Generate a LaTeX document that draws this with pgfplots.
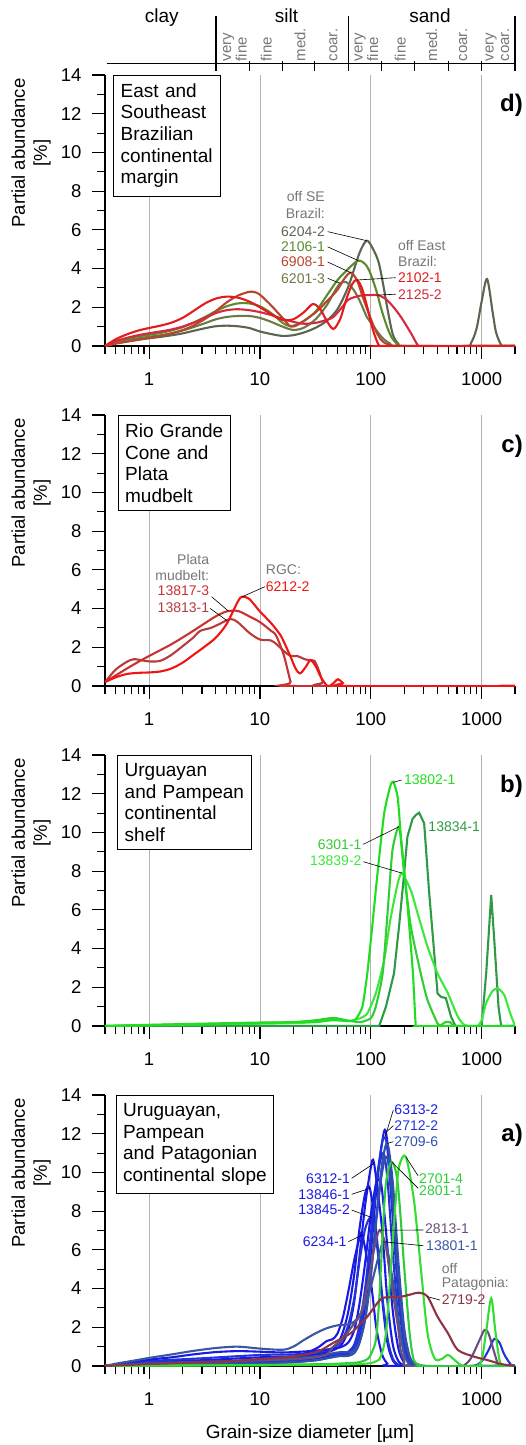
\documentclass[border=0pt]{standalone}
\usepackage{pgfplots}
\pgfplotsset{compat=1.18}
\usepackage{fontspec}
\setmainfont{Liberation Sans}

% sample colours
\definecolor{c6204}{HTML}{5A6650}
\definecolor{c2106}{HTML}{5B8A30}
\definecolor{c6908}{HTML}{B8452E}
\definecolor{c6201}{HTML}{6B7A48}
\definecolor{c2102}{HTML}{E51B1B}
\definecolor{c2125}{HTML}{D42A3C}
\definecolor{c6212}{HTML}{F01515}
\definecolor{c13817}{HTML}{C93232}
\definecolor{c13813}{HTML}{B83A3A}
\definecolor{c13802}{HTML}{20DD20}
\definecolor{c13834}{HTML}{2E9A45}
\definecolor{c6301}{HTML}{33CC33}
\definecolor{c13839}{HTML}{3DE83D}
\definecolor{cblue}{HTML}{1A1AE6}
\definecolor{cblueb}{HTML}{2233D8}
\definecolor{csteel}{HTML}{3050B0}
\definecolor{cslate}{HTML}{3A58A0}
\definecolor{cpurple}{HTML}{6B4E7C}
\definecolor{cmaroon}{HTML}{8C3444}
\definecolor{cgreen}{HTML}{2ECC3A}
\definecolor{cgreenb}{HTML}{33DD33}
\definecolor{lblgray}{HTML}{777777}
\definecolor{gridgray}{HTML}{B4B4B4}

\tikzset{
  ann/.style={inner sep=0pt, font=\fontsize{14}{15}\selectfont},
  leader/.style={line width=0.6pt, black},
  boxlbl/.style={draw=black, line width=0.8pt, fill=white, anchor=north west, align=left,
    inner xsep=7pt, inner ysep=8pt, font=\fontsize{19}{21.7}\selectfont},
  panellbl/.style={anchor=east, inner sep=0pt, font=\fontsize{24}{24}\selectfont\bfseries},
  subclass/.style={rotate=90, anchor=west, align=left, inner sep=1.5pt, text=lblgray,
    font=\fontsize{15}{15.5}\selectfont},
}

\pgfplotsset{
  every axis/.append style={
    scale only axis, width=410pt, height=271pt,
    xmin=0.4, xmax=2000, ymin=0, ymax=14,
    axis x line*=bottom, axis y line*=left,
    axis line style={line width=1.3pt, -},
    tick align=outside,
    major tick length=13pt, minor tick length=8pt,
    tick style={black, line width=1.1pt},
    xtick={1,10,100,1000}, xticklabels={1,10,100,1000},
    minor xtick={0.4,0.5,0.6,0.7,0.8,0.9,2,3,4,5,6,7,8,9,20,30,40,50,60,70,80,90,200,300,400,500,600,700,800,900,2000},
    ytick={0,2,...,14}, minor ytick={1,3,...,13},
    xmajorgrids, major x grid style={gridgray, line width=0.9pt},
    ticklabel style={font=\fontsize{18.5}{20}\selectfont},
    /pgf/number format/assume math mode=true,
    xticklabel style={yshift=-10pt},
    yticklabel style={xshift=-7pt},
    clip mode=individual,
    ylabel={Partial abundance\\{}[\%]},
    ylabel style={at={(axis description cs:-0.18,0.712)}, anchor=center, align=center,
      font=\fontsize{18.5}{22}\selectfont},
  },
  every axis plot/.append style={line width=2.1pt, no marks, smooth, tension=0.5},
}

\begin{document}
\begin{tikzpicture}
\path[use as bounding box] (0,0) rectangle (525pt,-1445pt);

% ---------------- d) East and Southeast Brazilian continental margin
\begin{axis}[xmode=log, at={(105pt,-346pt)}, anchor=south west]
\addplot[c6204] coordinates {(0.4,0) (0.5,0.15) (0.63,0.25) (0.8,0.33) (1,0.4) (1.26,0.47) (1.58,0.55) (2,0.65) (2.5,0.78) (3.2,0.92) (4,1.02) (5,1.05) (6.3,1.02) (8,0.93) (10,0.75) (12.6,0.62) (16,0.52) (20,0.56) (25,0.7) (32,0.95) (40,1.3) (50,1.9) (63,3.1) (79,4.8) (92,5.44) (105,5.0) (118,4.3) (131,3.0) (142,1.86) (158,0.6) (178,0.1) (200,0) (700,0) (800,0.15) (900,0.9) (1000,2.3) (1120,3.46) (1260,1.7) (1350,0.7) (1500,0.05) (1600,0) (2000,0)};
\addplot[c6201] coordinates {(0.4,0) (0.5,0.18) (0.63,0.3) (0.8,0.4) (1,0.48) (1.26,0.55) (1.58,0.65) (2,0.8) (2.5,0.97) (3.2,1.18) (4,1.38) (5,1.5) (6.3,1.55) (8,1.55) (10,1.45) (12.6,1.25) (16,1.0) (20,0.83) (25,0.95) (32,1.4) (40,2.1) (47,2.8) (53,3.24) (60,3.3) (70,2.9) (80,2.3) (92,1.5) (100,1.2) (126,0.45) (150,0.12) (178,0) (2000,0)};
\addplot[c2106] coordinates {(0.4,0) (0.5,0.22) (0.63,0.38) (0.8,0.5) (1,0.58) (1.26,0.67) (1.58,0.8) (2,0.97) (2.5,1.2) (3.2,1.5) (4,1.8) (5,2.05) (6.3,2.2) (8,2.2) (10,2.05) (12.6,1.7) (16,1.2) (18,1.05) (20,1.05) (25,1.3) (32,1.8) (40,2.6) (50,3.4) (63,4.0) (77,4.41) (90,4.2) (100,3.7) (113,2.8) (126,1.8) (142,0.9) (158,0.35) (178,0.05) (200,0) (2000,0)};
\addplot[c6908] coordinates {(0.4,0) (0.5,0.12) (0.63,0.22) (0.8,0.32) (1,0.42) (1.26,0.52) (1.58,0.65) (2,0.82) (2.5,1.05) (3.2,1.4) (4,1.8) (5,2.25) (6.3,2.6) (8,2.8) (9,2.78) (10,2.65) (12.6,2.1) (16,1.45) (19,1.0) (22,1.1) (25,1.3) (32,1.75) (40,2.3) (50,2.9) (58,3.5) (66,3.79) (75,3.4) (85,2.5) (100,1.4) (115,0.6) (130,0.2) (158,0.02) (200,0) (2000,0)};
\addplot[c2125] coordinates {(0.4,0) (0.5,0.25) (0.63,0.42) (0.8,0.56) (1,0.66) (1.26,0.75) (1.58,0.85) (2,1.0) (2.5,1.2) (3.2,1.45) (4,1.7) (5,1.85) (6.3,1.9) (8,1.85) (10,1.75) (12.6,1.6) (16,1.4) (20,1.25) (25,1.15) (32,1.2) (40,1.35) (46,1.5) (55,2.0) (63,2.4) (80,2.6) (100,2.63) (115,2.63) (135,2.45) (158,2.05) (187,1.5) (230,0.67) (265,0.05) (290,0) (2000,0)};
\addplot[c2102] coordinates {(0.4,0) (0.5,0.35) (0.63,0.6) (0.8,0.8) (1,0.93) (1.26,1.05) (1.58,1.2) (2,1.45) (2.5,1.8) (3.2,2.2) (4,2.45) (5,2.55) (6.3,2.5) (8,2.3) (10,2.0) (12.6,1.65) (16,1.35) (20,1.38) (25,1.75) (30,2.17) (35,1.9) (40,1.3) (46,0.88) (53,1.4) (60,2.4) (68,3.2) (75,3.41) (83,3.0) (93,2.0) (105,0.8) (118,0.05) (130,0) (2000,0)};

\node[boxlbl, text width=93pt] at (axis description cs:0.0202,1.0) {East~and\\Southeast\\Brazilian\\continental\\margin};
\node[panellbl] at (axis description cs:1.0195,0.889) {d)};

\node[ann, anchor=east, text=lblgray] at (axis description cs:0.5366,0.551) {off SE};
\node[ann, anchor=east, text=lblgray] at (axis description cs:0.5366,0.490) {Brazil:};
\node[ann, anchor=east, text=c6204] at (axis description cs:0.5366,0.422) {6204-2};
\node[ann, anchor=east, text=c2106] at (axis description cs:0.5366,0.366) {2106-1};
\node[ann, anchor=east, text=c6908] at (axis description cs:0.5366,0.310) {6908-1};
\node[ann, anchor=east, text=c6201] at (axis description cs:0.5366,0.250) {6201-3};
\draw[leader] (axis description cs:0.543,0.422) -- (axis cs:92,5.44);
\draw[leader] (axis description cs:0.543,0.366) -- (axis cs:77.3,4.41);
\draw[leader] (axis description cs:0.543,0.310) -- (axis cs:65.9,3.79);
\draw[leader] (axis description cs:0.543,0.250) -- (axis cs:52.8,3.24);
\node[ann, anchor=west, text=lblgray] at (axis description cs:0.7146,0.3716) {off East};
\node[ann, anchor=west, text=lblgray] at (axis description cs:0.7146,0.311) {Brazil:};
\node[ann, anchor=west, text=c2102] at (axis description cs:0.7146,0.252) {2102-1};
\node[ann, anchor=west, text=c2125] at (axis description cs:0.7146,0.191) {2125-2};
\draw[leader] (axis description cs:0.709,0.252) -- (axis cs:74.8,3.41);
\draw[leader] (axis description cs:0.709,0.191) -- (axis cs:113,2.63);

% grain-size class scale (Wentworth)
\draw[line width=1.4pt] (axis cs:0.4145,14.605) -- (axis cs:2000,14.605);
\draw[line width=1.6pt] (axis cs:4,17.05) -- (axis cs:4,14.22);
\draw[line width=1.6pt] (axis cs:63,17.05) -- (axis cs:63,14.22);
\draw[line width=1.6pt] (axis cs:2000,17.05) -- (axis cs:2000,14.22);
\draw[line width=1.1pt] (axis cs:8,14.72) -- (axis cs:8,14.22);
\draw[line width=1.1pt] (axis cs:16,14.72) -- (axis cs:16,14.22);
\draw[line width=1.1pt] (axis cs:31,14.72) -- (axis cs:31,14.22);
\draw[line width=1.1pt] (axis cs:125,14.72) -- (axis cs:125,14.22);
\draw[line width=1.1pt] (axis cs:250,14.72) -- (axis cs:250,14.22);
\draw[line width=1.1pt] (axis cs:500,14.72) -- (axis cs:500,14.22);
\draw[line width=1.1pt] (axis cs:1000,14.72) -- (axis cs:1000,14.22);
\node[anchor=base, inner sep=0pt, font=\fontsize{19}{19}\selectfont] at (axis cs:1.30,16.69) {clay};
\node[anchor=base, inner sep=0pt, font=\fontsize{19}{19}\selectfont] at (axis cs:17.36,16.69) {silt};
\node[anchor=base, inner sep=0pt, font=\fontsize{19}{19}\selectfont] at (axis cs:342,16.69) {sand};
\node[subclass] at (axis cs:5.95,14.62) {very\\fine};
\node[subclass] at (axis cs:11.4,14.62) {fine};
\node[subclass] at (axis cs:23,14.62) {med.};
\node[subclass] at (axis cs:45.9,14.62) {coar.};
\node[subclass] at (axis cs:91.5,14.62) {very\\fine};
\node[subclass] at (axis cs:184,14.62) {fine};
\node[subclass] at (axis cs:354,14.62) {med.};
\node[subclass] at (axis cs:683,14.62) {coar.};
\node[subclass] at (axis cs:1391,14.62) {very\\coar.};
\end{axis}

% ---------------- c) Rio Grande Cone and Plata mudbelt
\begin{axis}[xmode=log, at={(105pt,-686pt)}, anchor=south west]
\addplot[c13813] coordinates {(0.4,0.2) (0.5,0.85) (0.63,1.25) (0.72,1.38) (0.8,1.36) (1,1.27) (1.26,1.3) (1.58,1.6) (2,2.05) (2.5,2.5) (2.9,2.85) (3.6,3.0) (4.3,3.2) (5.4,3.46) (6.3,3.3) (8,2.75) (10,2.4) (12.6,2.35) (14.5,2.1) (16.4,1.8) (19,1.55) (21.7,1.55) (25,1.4) (28,1.32) (31,1.3) (34,0.8) (37,0.2) (40,0) (2000,0)};
\addplot[c13817] coordinates {(0.4,0.2) (0.5,0.55) (0.63,0.9) (0.8,1.25) (1,1.55) (1.26,1.85) (1.58,2.15) (2,2.5) (2.5,2.85) (3.2,3.25) (4,3.6) (5,3.85) (6.3,3.88) (8,3.6) (10,3.3) (12.6,2.85) (14,2.6) (16.4,1.6) (18.9,0.22) (20,0) (2000,0)};
\addplot[c6212] coordinates {(0.4,0.2) (0.5,0.45) (0.63,0.62) (0.8,0.68) (1,0.7) (1.26,0.75) (1.58,0.9) (2,1.2) (2.5,1.6) (3.2,2.05) (4,2.5) (5,3.2) (6.3,4.35) (6.9,4.61) (8,4.5) (10,3.85) (12.6,3.25) (15.3,2.63) (17,2.1) (18.9,1.51) (21,0.9) (23,0.65) (26,1.0) (28.6,1.34) (32,1.0) (35.3,0.48) (40.6,0) (45,0.1) (50.6,0.35) (56,0.15) (61,0) (2000,0)};

\node[boxlbl, text width=98pt] at (axis description cs:0.031,0.999) {Rio~Grande\\Cone~and\\Plata\\mudbelt};
\node[panellbl] at (axis description cs:1.0195,0.883) {c)};

\node[ann, anchor=east, text=lblgray] at (axis description cs:0.2544,0.465) {Plata};
\node[ann, anchor=east, text=lblgray] at (axis description cs:0.2544,0.406) {mudbelt:};
\node[ann, anchor=east, text=c13817] at (axis description cs:0.2544,0.3506) {13817-3};
\node[ann, anchor=east, text=c13813] at (axis description cs:0.2544,0.2904) {13813-1};
\draw[leader] (axis description cs:0.260,0.3295) -- (axis cs:5.19,3.87);
\draw[leader] (axis description cs:0.256,0.2867) -- (axis cs:5.03,3.38);
\node[ann, anchor=west, text=lblgray] at (axis description cs:0.392,0.428) {RGC:};
\node[ann, anchor=west, text=c6212] at (axis description cs:0.392,0.3664) {6212-2};
\draw[leader] (axis description cs:0.390,0.3664) -- (axis cs:6.9,4.61);
\end{axis}

% ---------------- b) Uruguayan and Pampean continental shelf
\begin{axis}[xmode=log, at={(105pt,-1026pt)}, anchor=south west]
\addplot[c13834, sharp plot] coordinates {(0.4,0) (119,0) (137,1.0) (162,2.72) (181,5.3) (200,7.9) (214,9.78) (238,10.7) (255,10.9) (273,11.02) (303,10.47) (335,7.0) (376,3.58) (400,1.69) (430,1.5) (475,1.45) (530,0.48) (580,0) (1000,0) (1100,2.74) (1220,6.77) (1300,4.44) (1420,1.0) (1500,0) (2000,0)};
\addplot[c13839, tension=0.35] coordinates {(0.4,0) (1,0.04) (3,0.08) (10,0.12) (20,0.15) (32,0.2) (46,0.3) (63,0.25) (80,0.4) (93,0.65) (111,1.69) (132,3.4) (150,5.48) (175,7.37) (191,7.9) (230,7.0) (265,5.8) (325,4.1) (400,2.72) (496,1.69) (610,0.48) (700,0.05) (800,0) (920,0) (1000,0.3) (1100,1.2) (1250,1.8) (1400,1.95) (1600,1.6) (1800,0.7) (2000,0)};
\addplot[c6301, tension=0.35] coordinates {(0.4,0) (1,0.06) (3,0.12) (10,0.18) (20,0.2) (32,0.3) (46,0.42) (60,0.3) (80,0.2) (100,0.4) (111,1.0) (128,2.72) (143,6.16) (157,9.1) (180,10.3) (200,7.9) (230,5.13) (282,2.72) (325,1.34) (400,0.13) (430,0.05) (470,0.2) (520,0.2) (600,0) (2000,0)};
\addplot[c13802, tension=0.35] coordinates {(0.4,0) (1,0.05) (3,0.1) (10,0.15) (20,0.2) (32,0.22) (40,0.3) (50,0.33) (63,0.25) (73,0.35) (84,1.0) (93,2.72) (103,5.13) (115,7.9) (132,10.98) (150,12.4) (160,12.62) (175,11.8) (187,9.8) (215,6.16) (240,2.72) (254,0.1) (270,0) (2000,0)};

\node[boxlbl, text width=120pt] at (axis description cs:0.030,1.0) {Urguayan\\and~Pampean\\continental\\shelf};
\node[panellbl] at (axis description cs:1.0195,0.883) {b)};

\node[ann, anchor=west, text=c13802] at (axis description cs:0.729,0.908) {13802-1};
\draw[leader] (axis description cs:0.7236,0.908) -- (axis cs:160,12.59);
\node[ann, anchor=west, text=c13834] at (axis description cs:0.7885,0.7354) {13834-1};
\node[ann, anchor=east, text=c6301] at (axis description cs:0.626,0.6705) {6301-1};
\draw[leader] (axis description cs:0.630,0.6705) -- (axis cs:180,10.3);
\node[ann, anchor=east, text=c13839] at (axis description cs:0.626,0.610) {13839-2};
\draw[leader] (axis description cs:0.630,0.6063) -- (axis cs:191,7.9);
\end{axis}

% ---------------- a) Uruguayan, Pampean and Patagonian continental slope
\begin{axis}[xmode=log, at={(105pt,-1366pt)}, anchor=south west,
  xlabel={Grain-size diameter [µm]},
  xlabel style={at={(axis description cs:0.5,-0.251)}, anchor=center, font=\fontsize{19}{19}\selectfont}]
% 2712-2
\addplot[cblue] coordinates {(0.4,0) (1,0.1) (3,0.16) (10,0.22) (20,0.28) (32,0.4) (40,0.5) (50,0.61) (56,0.63) (63,0.66) (71,0.87) (79,1.56) (89,3.14) (100,5.81) (112,9.02) (126,11.48) (137,12.07) (158,8.68) (178,4.30) (200,1.44) (224,0.33) (251,0.05) (282,0) (2000,0)};
% 6313-2
\addplot[cblueb] coordinates {(0.4,0) (1,0.08) (3,0.12) (10,0.14) (20,0.2) (32,0.3) (40,0.4) (50,0.51) (56,0.54) (63,0.60) (71,0.90) (79,1.73) (89,3.50) (100,6.28) (112,9.41) (126,11.49) (133,11.8) (141,11.23) (158,7.60) (178,3.48) (200,1.07) (224,0.22) (251,0.03) (282,0) (800,0) (1000,0.25) (1150,0.8) (1300,1.4) (1450,1.2) (1600,0.6) (1850,0.05) (2000,0)};
% 6312-1
\addplot[cblue] coordinates {(0.4,0) (1,0.2) (3,0.3) (10,0.45) (20,0.5) (32,0.6) (40,0.7) (50,0.92) (56,1.21) (63,1.89) (71,3.34) (79,5.64) (89,8.32) (100,10.24) (107,10.47) (126,7.14) (141,3.40) (158,1.10) (178,0.24) (200,0.03) (224,0) (2000,0)};
% 13846-1
\addplot[cblue] coordinates {(0.4,0) (1,0.15) (3,0.22) (10,0.3) (20,0.4) (32,0.6) (40,0.75) (50,1.18) (56,1.75) (63,2.88) (71,4.76) (79,7.07) (89,8.91) (98,9.18) (112,6.93) (126,3.57) (141,1.24) (158,0.29) (178,0.04) (200,0) (2000,0)};
% 13845-2
\addplot[cblueb] coordinates {(0.4,0) (1,0.25) (3,0.4) (10,0.57) (20,0.6) (32,0.7) (40,0.8) (50,1.07) (56,1.42) (63,2.16) (71,3.52) (79,5.37) (89,7.09) (101,7.68) (112,6.56) (126,3.79) (141,1.48) (158,0.39) (178,0.06) (200,0) (2000,0)};
% 6234-1
\addplot[cblue] coordinates {(0.4,0) (1,0.15) (3,0.22) (10,0.3) (20,0.45) (32,0.9) (40,1.29) (45,1.38) (50,1.67) (56,2.51) (63,3.91) (71,5.49) (79,6.59) (84,6.77) (100,4.36) (112,2.0) (126,0.62) (141,0.13) (158,0) (2000,0)};
% further slope samples
\addplot[cblueb] coordinates {(0.4,0) (1,0.1) (3,0.15) (10,0.2) (20,0.3) (32,0.45) (40,0.55) (50,0.61) (56,0.65) (63,0.75) (71,1.12) (79,2.11) (89,4.03) (100,6.79) (112,9.54) (129,11.0) (141,9.70) (158,5.84) (178,2.38) (200,0.66) (224,0.12) (251,0) (2000,0)};
\addplot[cblue] coordinates {(0.4,0) (0.63,0.15) (1,0.33) (1.6,0.45) (2.5,0.6) (4,0.72) (6.3,0.77) (10,0.74) (16,0.7) (25,0.75) (32,0.8) (40,0.85) (50,0.93) (56,1.02) (63,1.23) (71,1.86) (79,3.2) (89,5.35) (100,7.79) (112,9.44) (119,9.6) (126,9.14) (141,6.18) (158,2.83) (178,0.87) (200,0.18) (224,0) (2000,0)};
% 2709-6
\addplot[csteel] coordinates {(0.4,0) (1,0.15) (3,0.22) (10,0.3) (20,0.4) (32,0.5) (40,0.6) (50,0.7) (56,0.72) (63,0.72) (71,0.8) (79,1.26) (89,2.45) (100,4.68) (112,7.68) (126,10.37) (141,11.5) (158,9.46) (178,5.27) (200,1.98) (224,0.51) (251,0.09) (282,0) (2000,0)};
\addplot[csteel] coordinates {(0.4,0) (1,0.05) (3,0.1) (10,0.14) (20,0.2) (32,0.3) (40,0.4) (50,0.5) (56,0.52) (63,0.53) (71,0.67) (79,1.18) (89,2.42) (100,4.63) (112,7.49) (126,9.94) (140,10.8) (158,8.53) (178,4.56) (200,1.65) (224,0.40) (251,0.06) (282,0) (2000,0)};
% 13801-1
\addplot[cslate] coordinates {(0.4,0) (0.5,0.12) (0.63,0.22) (0.8,0.32) (1,0.42) (1.6,0.6) (2.5,0.78) (4,0.93) (6.3,1.0) (10,0.9) (16,0.84) (20,1.0) (25,1.35) (32,1.7) (40,1.95) (50,2.1) (63,2.15) (71,2.3) (79,2.6) (89,3.2) (100,4.1) (112,5.2) (122,6.0) (130,6.42) (141,6.0) (158,4.4) (178,2.3) (200,0.6) (224,0.08) (251,0) (2000,0)};
% 2813-1
\addplot[cpurple] coordinates {(0.4,0) (1,0.1) (4,0.2) (10,0.3) (20,0.35) (32,0.45) (40,0.6) (46,1.0) (56,1.4) (63,1.8) (71,2.2) (81,2.7) (93,4.1) (107,6.0) (120,7.02) (135,6.3) (150,4.7) (162,3.4) (178,1.8) (186,0.83) (200,0.3) (214,0) (631,0) (700,0.05) (800,0.4) (950,1.3) (1060,1.86) (1150,1.7) (1300,0.7) (1413,0.05) (1500,0) (2000,0)};
% 2801-1
\addplot[cgreen] coordinates {(0.4,0) (1,0.02) (10,0.05) (20,0.08) (40,0.1) (63,0.15) (79,0.2) (93,0.35) (100,0.6) (111,1.34) (119,3.4) (128,6.85) (137,9.44) (154,10.55) (175,9.44) (200,5.13) (224,1.7) (245,0.3) (282,0.05) (316,0) (2000,0)};
% 2701-4
\addplot[cgreenb] coordinates {(0.4,0) (1,0.02) (10,0.04) (40,0.06) (63,0.08) (79,0.1) (100,0.15) (112,0.25) (123,0.48) (137,1.69) (152,5.13) (168,8.57) (180,10.3) (207,10.81) (245,8.57) (282,5.13) (325,1.69) (376,0.4) (430,0.35) (496,0.57) (560,0.35) (630,0.1) (700,0) (900,0) (1000,0.3) (1100,1.8) (1220,3.5) (1330,1.8) (1450,0.3) (1585,0) (2000,0)};
% 2719-2
\addplot[cmaroon] coordinates {(0.4,0) (1,0.1) (4,0.22) (10,0.36) (20,0.5) (33,0.74) (46,1.2) (66,1.7) (81,2.2) (93,2.55) (123,3.45) (150,3.55) (187,3.58) (230,3.7) (273,3.79) (325,3.58) (400,2.55) (496,1.7) (610,0.83) (860,0.48) (1140,0.3) (1500,0.1) (2000,0)};

\node[boxlbl, text width=143pt] at (axis description cs:0.026,1.0) {Uruguayan,\\Pampean\\and~Patagonian\\continental~slope};
\node[panellbl] at (axis description cs:1.0195,0.852) {a)};

\node[ann, anchor=west, text=cblue] at (axis description cs:0.7056,0.9446) {6313-2};
\node[ann, anchor=west, text=cblueb] at (axis description cs:0.7056,0.8867) {2712-2};
\node[ann, anchor=west, text=csteel] at (axis description cs:0.7056,0.8277) {2709-6};
\draw[leader] (axis description cs:0.7032,0.9446) -- (axis cs:134,11.8);
\draw[leader] (axis description cs:0.7032,0.8867) -- (axis cs:137,12.07);
\draw[leader] (axis description cs:0.7032,0.8277) -- (axis cs:141,11.5);
\node[ann, anchor=west, text=cgreen] at (axis description cs:0.7659,0.690) {2701-4};
\node[ann, anchor=west, text=cgreen] at (axis description cs:0.7659,0.647) {2801-1};
\draw[leader] (axis description cs:0.764,0.701) -- (axis cs:207,10.81);
\draw[leader] (axis description cs:0.764,0.6557) -- (axis cs:154,10.55);
\node[ann, anchor=east, text=cblue] at (axis description cs:0.5976,0.6926) {6312-1};
\node[ann, anchor=east, text=cblue] at (axis description cs:0.5976,0.6336) {13846-1};
\node[ann, anchor=east, text=cblue] at (axis description cs:0.5976,0.5756) {13845-2};
\node[ann, anchor=east, text=cblue] at (axis description cs:0.5895,0.4587) {6234-1};
\draw[leader] (axis description cs:0.6016,0.6926) -- (axis cs:107,10.47);
\draw[leader] (axis description cs:0.6016,0.6336) -- (axis cs:98,9.18);
\draw[leader] (axis description cs:0.6016,0.5756) -- (axis cs:101,7.68);
\draw[leader] (axis description cs:0.5935,0.4587) -- (axis cs:84,6.77);
\node[ann, anchor=west, text=cpurple] at (axis description cs:0.7805,0.5055) {2813-1};
\node[ann, anchor=west, text=cslate] at (axis description cs:0.783,0.4439) {13801-1};
\draw[leader] (axis description cs:0.7763,0.5018) -- (axis cs:120,7.02);
\draw[leader] (axis description cs:0.7763,0.4439) -- (axis cs:130,6.42);
\node[ann, anchor=west, text=lblgray] at (axis description cs:0.8212,0.3605) {off};
\node[ann, anchor=west, text=lblgray] at (axis description cs:0.8212,0.3015) {Patagonia:};
\node[ann, anchor=west, text=cmaroon] at (axis description cs:0.8212,0.2435) {2719-2};
\draw[leader] (axis description cs:0.817,0.2435) -- (axis cs:325,3.58);
\end{axis}
\end{tikzpicture}
\end{document}
